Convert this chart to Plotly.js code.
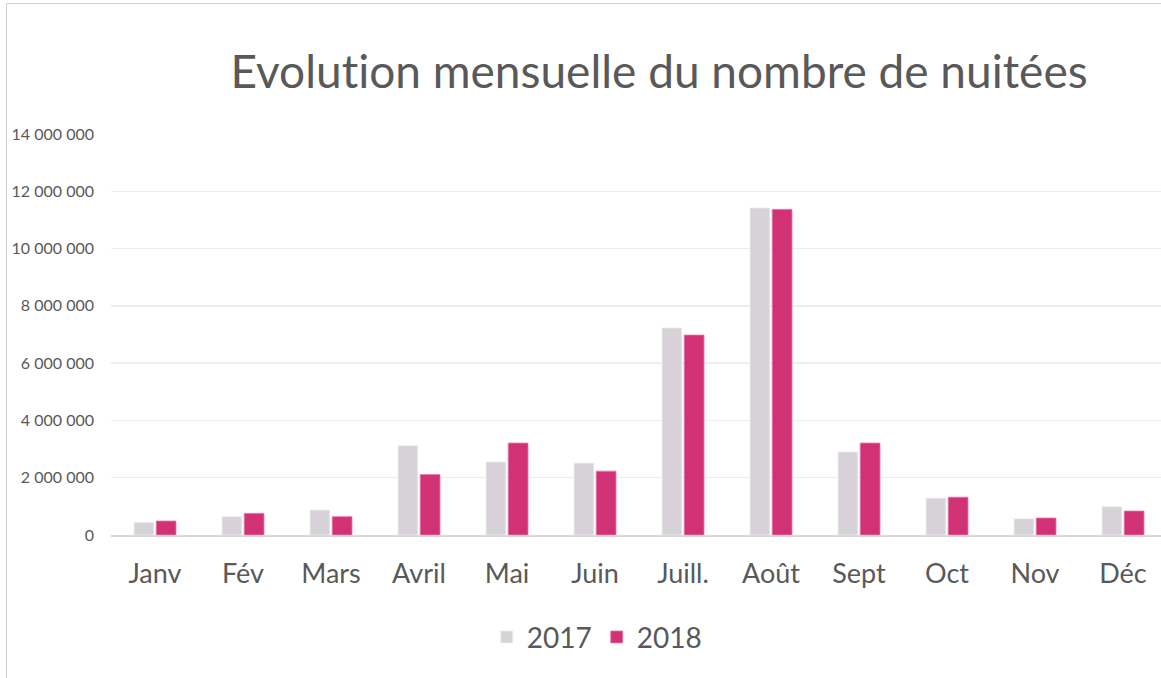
<!DOCTYPE html>
<html><head><meta charset="utf-8">
<script src="https://cdn.plot.ly/plotly-3.0.1.min.js"></script>
<style>
html,body{margin:0;padding:0;overflow:hidden;background:#fff;}
#frame{position:absolute;left:6px;top:3px;width:1200px;height:700px;border:1px solid #d0d0d0;pointer-events:none;}
#chart{position:absolute;left:0;top:0;}
text{font-variant-ligatures:none;font-feature-settings:"liga" 0, "clig" 0;}
</style></head>
<body>
<div id="chart"></div>
<div id="frame"></div>
<script>
const months = ["Janv","Fév","Mars","Avril","Mai","Juin","Juill.","Août","Sept","Oct","Nov","Déc"];
const y2017 = [443000,640000,873000,3120000,2550000,2510000,7230000,11420000,2900000,1290000,569000,988000];
const y2018 = [489000,757000,640000,2110000,3210000,2230000,6980000,11370000,3210000,1320000,594000,838000];
const tickVals = [0,2000000,4000000,6000000,8000000,10000000,12000000,14000000];

const data = [
  {type:"bar", name:"2017", x:months, y:y2017, marker:{color:"#d6d2d8", line:{color:"#f0eef1", width:0.8}}},
  {type:"bar", name:"2018", x:months, y:y2018, marker:{color:"#d13276", line:{color:"#e87aa8", width:0.8}}}
];
const layout = {
  width:1167, height:678,
  margin:{l:111, r:0, t:134, b:143},
  paper_bgcolor:"#ffffff", plot_bgcolor:"#ffffff",
  separators:", ",
  font:{family:"Lato, 'Open Sans', sans-serif", color:"#595959"},
  title:{text:"Evolution mensuelle du nombre de nuitées", font:{size:46, color:"#595959", family:"Lato, sans-serif"}, x:0.519, xanchor:"center", y:1 - 72/678, yanchor:"middle", xref:"paper", yref:"container"},
  barmode:"group", bargap:0.495, bargroupgap:0.11,
  xaxis:{tickfont:{size:27, color:"#595959"}, ticklabelstandoff:14, showline:true, linecolor:"#d9d9d9", linewidth:2, ticks:"", fixedrange:true},
  yaxis:{range:[0,14000000], tickvals:tickVals, tickformat:",d", tickfont:{size:16, color:"#595959"}, gridcolor:"#ededed", gridwidth:1.5, zeroline:false, showline:false, ticklabelstandoff:16, fixedrange:true},
  legend:{orientation:"h", x:0.46, xanchor:"center", y:-0.255, yanchor:"middle", font:{size:28, color:"#595959"}, itemwidth:30, traceorder:"normal"},
  showlegend:true
};
Plotly.newPlot("chart", data, layout, {displayModeBar:false, staticPlot:true});
</script>
</body></html>
